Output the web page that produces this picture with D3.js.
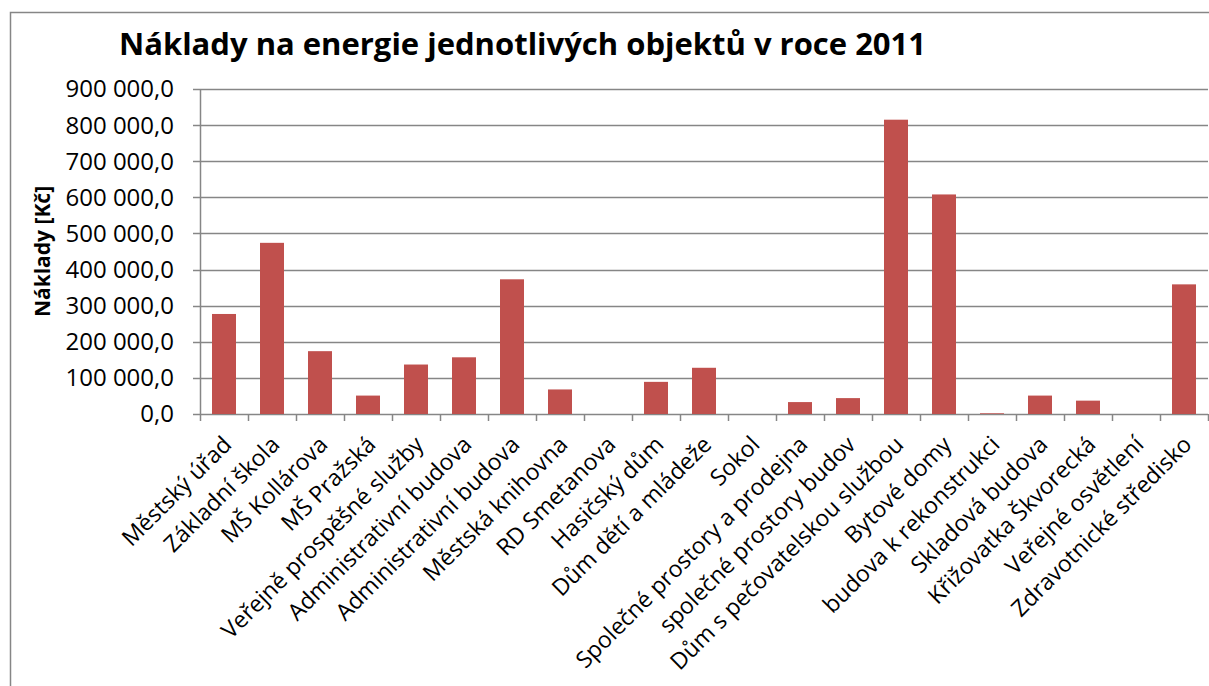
<!DOCTYPE html>
<html>
<head>
<meta charset="utf-8">
<script src="https://cdn.jsdelivr.net/npm/d3@7"></script>
<style>
  body { margin: 0; background: #fff; }
  svg text { font-family: "Open Sans", "Noto Sans", sans-serif; fill: #000; }
</style>
</head>
<body>
<div id="chart"></div>
<script>
// naklady na energie 2011 (Kc)
var categories = [
    "Městský úřad", "Základní škola", "MŠ Kollárova", "MŠ Pražská",
    "Veřejně prospěšné služby", "Administrativní budova", "Administrativní budova",
    "Městská knihovna", "RD Smetanova", "Hasičský dům", "Dům dětí a mládeže",
    "Sokol", "Společné prostory a prodejna", "společné prostory budov",
    "Dům s pečovatelskou službou", "Bytové domy", "budova k rekonstrukci",
    "Skladová budova", "Křižovatka Škvorecká", "Veřejné osvětlení",
    "Zdravotnické středisko"
];
var costs = [
    277000, 474000, 174000, 51000, 137000, 157000, 373000,
    68000, 0, 89000, 128000, 0, 33000, 44000,
    815000, 608000, 2000, 51000, 37000, 0, 359000
];
var yTicks = [0, 100000, 200000, 300000, 400000, 500000, 600000, 700000, 800000, 900000];

var chartTitle = "Náklady na energie jednotlivých objektů v roce 2011";
var yTitle = "Náklady [Kč]";

var W = 1209, H = 686;
var margin = { top: 89, left: 200, right: 1, bottom: 272 };
var width = W - margin.left - margin.right,
    height = H - margin.top - margin.bottom;

var svg = d3.select("#chart").append("svg")
    .attr("width", W)
    .attr("height", H);

// outer chart border
svg.append("rect")
    .attr("x", 10.5).attr("y", 12.5)
    .attr("width", W + 20).attr("height", H + 20)
    .attr("fill", "none")
    .attr("stroke", "#868686")
    .attr("stroke-width", 1.5);

svg.append("text")
    .attr("x", 119)
    .attr("y", 55)
    .attr("font-size", 31)
    .attr("font-weight", "bold")
    .text(chartTitle);

var g = svg.append("g")
    .attr("transform", "translate(" + margin.left + "," + margin.top + ")");

var x = d3.scaleBand()
    .domain(d3.range(categories.length))
    .range([0, width])
    .paddingInner(0.5)
    .paddingOuter(0.25);

var y = d3.scaleLinear()
    .domain([0, 900000])
    .range([height, 0]);

var fmt = function(d) {
    return d3.format(",.1f")(d).replace(/,/g, " ").replace(".", ",");
};

// gridlines
g.append("g")
    .selectAll("line")
    .data(yTicks)
    .enter().append("line")
    .attr("x1", -7).attr("x2", width)
    .attr("y1", function(d) { return Math.round(y(d)) + 0.5; })
    .attr("y2", function(d) { return Math.round(y(d)) + 0.5; })
    .attr("stroke", "#868686")
    .attr("stroke-width", 1.5);

// y axis line
g.append("line")
    .attr("x1", 0.5).attr("x2", 0.5)
    .attr("y1", 0).attr("y2", height)
    .attr("stroke", "#868686")
    .attr("stroke-width", 1.5);

g.append("g")
    .selectAll("text")
    .data(yTicks)
    .enter().append("text")
    .attr("x", -26)
    .attr("y", function(d) { return y(d); })
    .attr("dy", "0.35em")
    .attr("text-anchor", "end")
    .attr("font-size", 24)
    .text(fmt);

// bars
g.selectAll(".bar")
    .data(costs)
    .enter().append("rect")
    .attr("class", "bar")
    .attr("x", function(d, i) { return x(i); })
    .attr("width", x.bandwidth())
    .attr("y", function(d) { return y(d); })
    .attr("height", function(d) { return height - y(d); })
    .attr("fill", "#C0504D");

// x axis ticks
var step = x.step();
g.append("g")
    .selectAll("line")
    .data(d3.range(categories.length + 1))
    .enter().append("line")
    .attr("x1", function(i) { return Math.round(i * step) + 0.5; })
    .attr("x2", function(i) { return Math.round(i * step) + 0.5; })
    .attr("y1", height).attr("y2", height + 7)
    .attr("stroke", "#868686")
    .attr("stroke-width", 1.5);

// rotated category labels
g.append("g")
    .selectAll("text")
    .data(categories)
    .enter().append("text")
    .attr("transform", function(d, i) {
        var cx = x(i) + x.bandwidth() / 2;
        return "translate(" + (cx + 9) + "," + (height + 32) + ") rotate(-45)";
    })
    .attr("text-anchor", "end")
    .attr("font-size", 23)
    .text(function(d) { return d; });

svg.append("text")
    .attr("transform", "translate(50," + (margin.top + height / 2) + ") rotate(-90)")
    .attr("text-anchor", "middle")
    .attr("font-size", 21)
    .attr("font-weight", "bold")
    .text(yTitle);
</script>
</body>
</html>
